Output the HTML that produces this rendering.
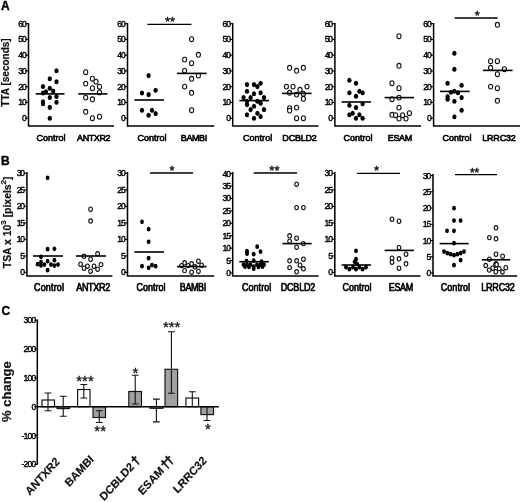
<!DOCTYPE html>
<html><head><meta charset="utf-8"><title>Figure</title>
<style>
html,body{margin:0;padding:0;background:#fff;}
body{width:520px;height:502px;overflow:hidden;font-family:"Liberation Sans", sans-serif;}
svg{display:block;font-family:"Liberation Sans", sans-serif;filter:blur(0.25px);}
.tk{font-size:8.6px;letter-spacing:-1.05px;fill:#000;stroke:#000;stroke-width:0.4px;}
.xl{font-size:9px;fill:#000;;stroke:#000;stroke-width:0.6px;}
.st{fill:#111;stroke:#111;stroke-width:0.4px;}
.st2{fill:#111;stroke:#111;stroke-width:0.3px;}
.dg{font-size:12.2px;stroke-width:0.55px;}
.pl{font-size:12px;font-weight:bold;fill:#000;stroke:#000;stroke-width:0.35px;}
.yl{font-size:10px;font-weight:bold;fill:#111;stroke:#111;stroke-width:0.2px;}
.yc{font-size:13px;font-weight:bold;fill:#111;stroke:#111;stroke-width:0.2px;}
.rl{font-size:10.8px;font-weight:bold;fill:#111;stroke:#111;stroke-width:0.15px;}
</style></head>
<body>
<svg width="520" height="502" viewBox="0 0 520 502">
<rect width="520" height="502" fill="#fff"/>
<path d="M28.5 23.0V126H114" fill="none" stroke="#000" stroke-width="1.5"/>
<line x1="25.5" y1="118.2" x2="28.5" y2="118.2" stroke="#000" stroke-width="1.1"/>
<text x="25.7" y="121.2" text-anchor="end" class="tk">0</text>
<line x1="25.5" y1="102.45" x2="28.5" y2="102.45" stroke="#000" stroke-width="1.1"/>
<text x="25.7" y="105.45" text-anchor="end" class="tk">10</text>
<line x1="25.5" y1="86.7" x2="28.5" y2="86.7" stroke="#000" stroke-width="1.1"/>
<text x="25.7" y="89.7" text-anchor="end" class="tk">20</text>
<line x1="25.5" y1="70.95" x2="28.5" y2="70.95" stroke="#000" stroke-width="1.1"/>
<text x="25.7" y="73.95" text-anchor="end" class="tk">30</text>
<line x1="25.5" y1="55.2" x2="28.5" y2="55.2" stroke="#000" stroke-width="1.1"/>
<text x="25.7" y="58.2" text-anchor="end" class="tk">40</text>
<line x1="25.5" y1="39.45" x2="28.5" y2="39.45" stroke="#000" stroke-width="1.1"/>
<text x="25.7" y="42.45" text-anchor="end" class="tk">50</text>
<line x1="25.5" y1="23.700000000000003" x2="28.5" y2="23.700000000000003" stroke="#000" stroke-width="1.1"/>
<text x="25.7" y="26.700000000000003" text-anchor="end" class="tk">60</text>
<ellipse cx="56.5" cy="70.7" rx="2.15" ry="2.57" fill="#000"/>
<ellipse cx="49.8" cy="78.7" rx="2.15" ry="2.57" fill="#000"/>
<ellipse cx="56.5" cy="81.7" rx="2.15" ry="2.57" fill="#000"/>
<ellipse cx="43" cy="86.5" rx="2.15" ry="2.57" fill="#000"/>
<ellipse cx="49.8" cy="88.2" rx="2.15" ry="2.57" fill="#000"/>
<ellipse cx="53.2" cy="91.0" rx="2.15" ry="2.57" fill="#000"/>
<ellipse cx="46" cy="91.8" rx="2.15" ry="2.57" fill="#000"/>
<ellipse cx="43" cy="93.0" rx="2.15" ry="2.57" fill="#000"/>
<ellipse cx="49.8" cy="97.5" rx="2.15" ry="2.57" fill="#000"/>
<ellipse cx="56.5" cy="96.5" rx="2.15" ry="2.57" fill="#000"/>
<ellipse cx="43" cy="101.8" rx="2.15" ry="2.57" fill="#000"/>
<ellipse cx="43" cy="103.8" rx="2.15" ry="2.57" fill="#000"/>
<ellipse cx="56.5" cy="102.2" rx="2.15" ry="2.57" fill="#000"/>
<ellipse cx="49.8" cy="107.4" rx="2.15" ry="2.57" fill="#000"/>
<ellipse cx="49.8" cy="118.2" rx="2.15" ry="2.57" fill="#000"/>
<ellipse cx="85.7" cy="72.2" rx="2.05" ry="2.4" fill="#fff" stroke="#111" stroke-width="1.1"/>
<ellipse cx="92.4" cy="78.7" rx="2.05" ry="2.4" fill="#fff" stroke="#111" stroke-width="1.1"/>
<ellipse cx="96" cy="81.7" rx="2.05" ry="2.4" fill="#fff" stroke="#111" stroke-width="1.1"/>
<ellipse cx="85.7" cy="83.60000000000001" rx="2.05" ry="2.4" fill="#fff" stroke="#111" stroke-width="1.1"/>
<ellipse cx="99.5" cy="86.7" rx="2.05" ry="2.4" fill="#fff" stroke="#111" stroke-width="1.1"/>
<ellipse cx="92.4" cy="88.2" rx="2.05" ry="2.4" fill="#fff" stroke="#111" stroke-width="1.1"/>
<ellipse cx="99.5" cy="92.4" rx="2.05" ry="2.4" fill="#fff" stroke="#111" stroke-width="1.1"/>
<ellipse cx="85.7" cy="97.60000000000001" rx="2.05" ry="2.4" fill="#fff" stroke="#111" stroke-width="1.1"/>
<ellipse cx="92.4" cy="99.3" rx="2.05" ry="2.4" fill="#fff" stroke="#111" stroke-width="1.1"/>
<ellipse cx="85.7" cy="111.8" rx="2.05" ry="2.4" fill="#fff" stroke="#111" stroke-width="1.1"/>
<ellipse cx="99.5" cy="116.7" rx="2.05" ry="2.4" fill="#fff" stroke="#111" stroke-width="1.1"/>
<ellipse cx="92.4" cy="118.2" rx="2.05" ry="2.4" fill="#fff" stroke="#111" stroke-width="1.1"/>
<line x1="35.7" y1="93.9" x2="64.5" y2="93.9" stroke="#000" stroke-width="1.6"/>
<line x1="78.3" y1="93.9" x2="107.4" y2="93.9" stroke="#000" stroke-width="1.6"/>
<text transform="translate(51,141.0) scale(1,1.1)" text-anchor="middle" class="xl" textLength="29.2" lengthAdjust="spacing">Control</text>
<text transform="translate(93.8,141.0) scale(1,1.1)" text-anchor="middle" class="xl" textLength="33.5" lengthAdjust="spacing">ANTXR2</text>
<path d="M127.5 23.0V126H214.3" fill="none" stroke="#000" stroke-width="1.5"/>
<line x1="124.5" y1="118.2" x2="127.5" y2="118.2" stroke="#000" stroke-width="1.1"/>
<text x="124.7" y="121.2" text-anchor="end" class="tk">0</text>
<line x1="124.5" y1="102.45" x2="127.5" y2="102.45" stroke="#000" stroke-width="1.1"/>
<text x="124.7" y="105.45" text-anchor="end" class="tk">10</text>
<line x1="124.5" y1="86.7" x2="127.5" y2="86.7" stroke="#000" stroke-width="1.1"/>
<text x="124.7" y="89.7" text-anchor="end" class="tk">20</text>
<line x1="124.5" y1="70.95" x2="127.5" y2="70.95" stroke="#000" stroke-width="1.1"/>
<text x="124.7" y="73.95" text-anchor="end" class="tk">30</text>
<line x1="124.5" y1="55.2" x2="127.5" y2="55.2" stroke="#000" stroke-width="1.1"/>
<text x="124.7" y="58.2" text-anchor="end" class="tk">40</text>
<line x1="124.5" y1="39.45" x2="127.5" y2="39.45" stroke="#000" stroke-width="1.1"/>
<text x="124.7" y="42.45" text-anchor="end" class="tk">50</text>
<line x1="124.5" y1="23.700000000000003" x2="127.5" y2="23.700000000000003" stroke="#000" stroke-width="1.1"/>
<text x="124.7" y="26.700000000000003" text-anchor="end" class="tk">60</text>
<ellipse cx="148.6" cy="75.60000000000001" rx="2.15" ry="2.57" fill="#000"/>
<ellipse cx="155.6" cy="90.2" rx="2.15" ry="2.57" fill="#000"/>
<ellipse cx="142" cy="93.0" rx="2.15" ry="2.57" fill="#000"/>
<ellipse cx="148.6" cy="94.60000000000001" rx="2.15" ry="2.57" fill="#000"/>
<ellipse cx="142" cy="110.2" rx="2.15" ry="2.57" fill="#000"/>
<ellipse cx="152" cy="110.2" rx="2.15" ry="2.57" fill="#000"/>
<ellipse cx="155.6" cy="113.60000000000001" rx="2.15" ry="2.57" fill="#000"/>
<ellipse cx="148.6" cy="115.2" rx="2.15" ry="2.57" fill="#000"/>
<ellipse cx="191.6" cy="39.2" rx="2.05" ry="2.4" fill="#fff" stroke="#111" stroke-width="1.1"/>
<ellipse cx="198.4" cy="54.800000000000004" rx="2.05" ry="2.4" fill="#fff" stroke="#111" stroke-width="1.1"/>
<ellipse cx="184.6" cy="59.6" rx="2.05" ry="2.4" fill="#fff" stroke="#111" stroke-width="1.1"/>
<ellipse cx="191.6" cy="63.2" rx="2.05" ry="2.4" fill="#fff" stroke="#111" stroke-width="1.1"/>
<ellipse cx="184.6" cy="70.60000000000001" rx="2.05" ry="2.4" fill="#fff" stroke="#111" stroke-width="1.1"/>
<ellipse cx="198.4" cy="75.60000000000001" rx="2.05" ry="2.4" fill="#fff" stroke="#111" stroke-width="1.1"/>
<ellipse cx="191.6" cy="78.8" rx="2.05" ry="2.4" fill="#fff" stroke="#111" stroke-width="1.1"/>
<ellipse cx="184.6" cy="86.60000000000001" rx="2.05" ry="2.4" fill="#fff" stroke="#111" stroke-width="1.1"/>
<ellipse cx="191.6" cy="92.8" rx="2.05" ry="2.4" fill="#fff" stroke="#111" stroke-width="1.1"/>
<ellipse cx="191.6" cy="110.2" rx="2.05" ry="2.4" fill="#fff" stroke="#111" stroke-width="1.1"/>
<line x1="134.4" y1="100" x2="164" y2="100" stroke="#000" stroke-width="1.6"/>
<line x1="177" y1="73.4" x2="206.6" y2="73.4" stroke="#000" stroke-width="1.6"/>
<text transform="translate(152,141.0) scale(1,1.1)" text-anchor="middle" class="xl" textLength="29.2" lengthAdjust="spacing">Control</text>
<text transform="translate(194,141.0) scale(1,1.1)" text-anchor="middle" class="xl" textLength="26.5" lengthAdjust="spacing">BAMBI</text>
<line x1="147.4" y1="24.4" x2="191.4" y2="24.4" stroke="#000" stroke-width="1.4"/>
<text x="170" y="25.9" text-anchor="middle" class="st" font-size="13">**</text>
<path d="M232.7 23.0V126H318.6" fill="none" stroke="#000" stroke-width="1.5"/>
<line x1="229.7" y1="118.2" x2="232.7" y2="118.2" stroke="#000" stroke-width="1.1"/>
<text x="229.89999999999998" y="121.2" text-anchor="end" class="tk">0</text>
<line x1="229.7" y1="102.45" x2="232.7" y2="102.45" stroke="#000" stroke-width="1.1"/>
<text x="229.89999999999998" y="105.45" text-anchor="end" class="tk">10</text>
<line x1="229.7" y1="86.7" x2="232.7" y2="86.7" stroke="#000" stroke-width="1.1"/>
<text x="229.89999999999998" y="89.7" text-anchor="end" class="tk">20</text>
<line x1="229.7" y1="70.95" x2="232.7" y2="70.95" stroke="#000" stroke-width="1.1"/>
<text x="229.89999999999998" y="73.95" text-anchor="end" class="tk">30</text>
<line x1="229.7" y1="55.2" x2="232.7" y2="55.2" stroke="#000" stroke-width="1.1"/>
<text x="229.89999999999998" y="58.2" text-anchor="end" class="tk">40</text>
<line x1="229.7" y1="39.45" x2="232.7" y2="39.45" stroke="#000" stroke-width="1.1"/>
<text x="229.89999999999998" y="42.45" text-anchor="end" class="tk">50</text>
<line x1="229.7" y1="23.700000000000003" x2="232.7" y2="23.700000000000003" stroke="#000" stroke-width="1.1"/>
<text x="229.89999999999998" y="26.700000000000003" text-anchor="end" class="tk">60</text>
<ellipse cx="247" cy="84.60000000000001" rx="2.15" ry="2.57" fill="#000"/>
<ellipse cx="254" cy="84.60000000000001" rx="2.15" ry="2.57" fill="#000"/>
<ellipse cx="260.6" cy="83.2" rx="2.15" ry="2.57" fill="#000"/>
<ellipse cx="257.4" cy="86.60000000000001" rx="2.15" ry="2.57" fill="#000"/>
<ellipse cx="247" cy="91.2" rx="2.15" ry="2.57" fill="#000"/>
<ellipse cx="254" cy="93.8" rx="2.15" ry="2.57" fill="#000"/>
<ellipse cx="260.6" cy="92.8" rx="2.15" ry="2.57" fill="#000"/>
<ellipse cx="243.6" cy="97.60000000000001" rx="2.15" ry="2.57" fill="#000"/>
<ellipse cx="250.6" cy="97.60000000000001" rx="2.15" ry="2.57" fill="#000"/>
<ellipse cx="264" cy="97.60000000000001" rx="2.15" ry="2.57" fill="#000"/>
<ellipse cx="247" cy="101.2" rx="2.15" ry="2.57" fill="#000"/>
<ellipse cx="257.4" cy="101.2" rx="2.15" ry="2.57" fill="#000"/>
<ellipse cx="260.6" cy="103.2" rx="2.15" ry="2.57" fill="#000"/>
<ellipse cx="247" cy="104.60000000000001" rx="2.15" ry="2.57" fill="#000"/>
<ellipse cx="254" cy="106.2" rx="2.15" ry="2.57" fill="#000"/>
<ellipse cx="250.6" cy="109.60000000000001" rx="2.15" ry="2.57" fill="#000"/>
<ellipse cx="264" cy="109.60000000000001" rx="2.15" ry="2.57" fill="#000"/>
<ellipse cx="257.4" cy="113.2" rx="2.15" ry="2.57" fill="#000"/>
<ellipse cx="247" cy="114.8" rx="2.15" ry="2.57" fill="#000"/>
<ellipse cx="260.6" cy="116.60000000000001" rx="2.15" ry="2.57" fill="#000"/>
<ellipse cx="254" cy="118.2" rx="2.15" ry="2.57" fill="#000"/>
<ellipse cx="289.6" cy="67.8" rx="2.05" ry="2.4" fill="#fff" stroke="#111" stroke-width="1.1"/>
<ellipse cx="296.6" cy="70.8" rx="2.05" ry="2.4" fill="#fff" stroke="#111" stroke-width="1.1"/>
<ellipse cx="303.4" cy="67.8" rx="2.05" ry="2.4" fill="#fff" stroke="#111" stroke-width="1.1"/>
<ellipse cx="286.4" cy="86.60000000000001" rx="2.05" ry="2.4" fill="#fff" stroke="#111" stroke-width="1.1"/>
<ellipse cx="293" cy="86.60000000000001" rx="2.05" ry="2.4" fill="#fff" stroke="#111" stroke-width="1.1"/>
<ellipse cx="307" cy="86.60000000000001" rx="2.05" ry="2.4" fill="#fff" stroke="#111" stroke-width="1.1"/>
<ellipse cx="300" cy="89.8" rx="2.05" ry="2.4" fill="#fff" stroke="#111" stroke-width="1.1"/>
<ellipse cx="289.6" cy="92.8" rx="2.05" ry="2.4" fill="#fff" stroke="#111" stroke-width="1.1"/>
<ellipse cx="296.6" cy="94.60000000000001" rx="2.05" ry="2.4" fill="#fff" stroke="#111" stroke-width="1.1"/>
<ellipse cx="303.4" cy="93.8" rx="2.05" ry="2.4" fill="#fff" stroke="#111" stroke-width="1.1"/>
<ellipse cx="303.4" cy="98.8" rx="2.05" ry="2.4" fill="#fff" stroke="#111" stroke-width="1.1"/>
<ellipse cx="296.6" cy="107.60000000000001" rx="2.05" ry="2.4" fill="#fff" stroke="#111" stroke-width="1.1"/>
<ellipse cx="289.6" cy="108.2" rx="2.05" ry="2.4" fill="#fff" stroke="#111" stroke-width="1.1"/>
<ellipse cx="289.6" cy="110.60000000000001" rx="2.05" ry="2.4" fill="#fff" stroke="#111" stroke-width="1.1"/>
<ellipse cx="296.6" cy="118.2" rx="2.05" ry="2.4" fill="#fff" stroke="#111" stroke-width="1.1"/>
<ellipse cx="303.4" cy="118.2" rx="2.05" ry="2.4" fill="#fff" stroke="#111" stroke-width="1.1"/>
<line x1="239.4" y1="100.6" x2="269" y2="100.6" stroke="#000" stroke-width="1.6"/>
<line x1="282" y1="93.4" x2="311.6" y2="93.4" stroke="#000" stroke-width="1.6"/>
<text transform="translate(257.6,141.0) scale(1,1.1)" text-anchor="middle" class="xl" textLength="29.2" lengthAdjust="spacing">Control</text>
<text transform="translate(299.6,141.0) scale(1,1.1)" text-anchor="middle" class="xl" textLength="34.5" lengthAdjust="spacing">DCBLD2</text>
<path d="M334.9 23.0V126H421" fill="none" stroke="#000" stroke-width="1.5"/>
<line x1="331.9" y1="118.2" x2="334.9" y2="118.2" stroke="#000" stroke-width="1.1"/>
<text x="332.09999999999997" y="121.2" text-anchor="end" class="tk">0</text>
<line x1="331.9" y1="102.45" x2="334.9" y2="102.45" stroke="#000" stroke-width="1.1"/>
<text x="332.09999999999997" y="105.45" text-anchor="end" class="tk">10</text>
<line x1="331.9" y1="86.7" x2="334.9" y2="86.7" stroke="#000" stroke-width="1.1"/>
<text x="332.09999999999997" y="89.7" text-anchor="end" class="tk">20</text>
<line x1="331.9" y1="70.95" x2="334.9" y2="70.95" stroke="#000" stroke-width="1.1"/>
<text x="332.09999999999997" y="73.95" text-anchor="end" class="tk">30</text>
<line x1="331.9" y1="55.2" x2="334.9" y2="55.2" stroke="#000" stroke-width="1.1"/>
<text x="332.09999999999997" y="58.2" text-anchor="end" class="tk">40</text>
<line x1="331.9" y1="39.45" x2="334.9" y2="39.45" stroke="#000" stroke-width="1.1"/>
<text x="332.09999999999997" y="42.45" text-anchor="end" class="tk">50</text>
<line x1="331.9" y1="23.700000000000003" x2="334.9" y2="23.700000000000003" stroke="#000" stroke-width="1.1"/>
<text x="332.09999999999997" y="26.700000000000003" text-anchor="end" class="tk">60</text>
<ellipse cx="349.4" cy="80.2" rx="2.15" ry="2.57" fill="#000"/>
<ellipse cx="356" cy="83.2" rx="2.15" ry="2.57" fill="#000"/>
<ellipse cx="359.4" cy="91.2" rx="2.15" ry="2.57" fill="#000"/>
<ellipse cx="349.4" cy="92.8" rx="2.15" ry="2.57" fill="#000"/>
<ellipse cx="362.6" cy="92.8" rx="2.15" ry="2.57" fill="#000"/>
<ellipse cx="356" cy="96.2" rx="2.15" ry="2.57" fill="#000"/>
<ellipse cx="362.6" cy="103.8" rx="2.15" ry="2.57" fill="#000"/>
<ellipse cx="349.4" cy="105.2" rx="2.15" ry="2.57" fill="#000"/>
<ellipse cx="356" cy="107.60000000000001" rx="2.15" ry="2.57" fill="#000"/>
<ellipse cx="352.6" cy="113.2" rx="2.15" ry="2.57" fill="#000"/>
<ellipse cx="349.4" cy="114.8" rx="2.15" ry="2.57" fill="#000"/>
<ellipse cx="359.4" cy="114.8" rx="2.15" ry="2.57" fill="#000"/>
<ellipse cx="356" cy="118.2" rx="2.15" ry="2.57" fill="#000"/>
<ellipse cx="362.6" cy="118.2" rx="2.15" ry="2.57" fill="#000"/>
<ellipse cx="399" cy="36.2" rx="2.05" ry="2.4" fill="#fff" stroke="#111" stroke-width="1.1"/>
<ellipse cx="399" cy="65.8" rx="2.05" ry="2.4" fill="#fff" stroke="#111" stroke-width="1.1"/>
<ellipse cx="392" cy="83.2" rx="2.05" ry="2.4" fill="#fff" stroke="#111" stroke-width="1.1"/>
<ellipse cx="399" cy="88.2" rx="2.05" ry="2.4" fill="#fff" stroke="#111" stroke-width="1.1"/>
<ellipse cx="399" cy="97.60000000000001" rx="2.05" ry="2.4" fill="#fff" stroke="#111" stroke-width="1.1"/>
<ellipse cx="392" cy="99.2" rx="2.05" ry="2.4" fill="#fff" stroke="#111" stroke-width="1.1"/>
<ellipse cx="399" cy="107.60000000000001" rx="2.05" ry="2.4" fill="#fff" stroke="#111" stroke-width="1.1"/>
<ellipse cx="409.4" cy="113.2" rx="2.05" ry="2.4" fill="#fff" stroke="#111" stroke-width="1.1"/>
<ellipse cx="392" cy="114.8" rx="2.05" ry="2.4" fill="#fff" stroke="#111" stroke-width="1.1"/>
<ellipse cx="395.6" cy="115.2" rx="2.05" ry="2.4" fill="#fff" stroke="#111" stroke-width="1.1"/>
<ellipse cx="402.6" cy="115.2" rx="2.05" ry="2.4" fill="#fff" stroke="#111" stroke-width="1.1"/>
<ellipse cx="399" cy="118.60000000000001" rx="2.05" ry="2.4" fill="#fff" stroke="#111" stroke-width="1.1"/>
<ellipse cx="406" cy="118.60000000000001" rx="2.05" ry="2.4" fill="#fff" stroke="#111" stroke-width="1.1"/>
<line x1="341.6" y1="102" x2="371" y2="102" stroke="#000" stroke-width="1.6"/>
<line x1="384.6" y1="97.6" x2="414" y2="97.6" stroke="#000" stroke-width="1.6"/>
<text transform="translate(358,141.0) scale(1,1.1)" text-anchor="middle" class="xl" textLength="29.2" lengthAdjust="spacing">Control</text>
<text transform="translate(400,141.0) scale(1,1.1)" text-anchor="middle" class="xl" textLength="24.5" lengthAdjust="spacing">ESAM</text>
<path d="M433.6 23.0V126H521" fill="none" stroke="#000" stroke-width="1.5"/>
<line x1="430.6" y1="118.2" x2="433.6" y2="118.2" stroke="#000" stroke-width="1.1"/>
<text x="430.8" y="121.2" text-anchor="end" class="tk">0</text>
<line x1="430.6" y1="102.45" x2="433.6" y2="102.45" stroke="#000" stroke-width="1.1"/>
<text x="430.8" y="105.45" text-anchor="end" class="tk">10</text>
<line x1="430.6" y1="86.7" x2="433.6" y2="86.7" stroke="#000" stroke-width="1.1"/>
<text x="430.8" y="89.7" text-anchor="end" class="tk">20</text>
<line x1="430.6" y1="70.95" x2="433.6" y2="70.95" stroke="#000" stroke-width="1.1"/>
<text x="430.8" y="73.95" text-anchor="end" class="tk">30</text>
<line x1="430.6" y1="55.2" x2="433.6" y2="55.2" stroke="#000" stroke-width="1.1"/>
<text x="430.8" y="58.2" text-anchor="end" class="tk">40</text>
<line x1="430.6" y1="39.45" x2="433.6" y2="39.45" stroke="#000" stroke-width="1.1"/>
<text x="430.8" y="42.45" text-anchor="end" class="tk">50</text>
<line x1="430.6" y1="23.700000000000003" x2="433.6" y2="23.700000000000003" stroke="#000" stroke-width="1.1"/>
<text x="430.8" y="26.700000000000003" text-anchor="end" class="tk">60</text>
<ellipse cx="454.4" cy="53.2" rx="2.15" ry="2.57" fill="#000"/>
<ellipse cx="454.4" cy="69.2" rx="2.15" ry="2.57" fill="#000"/>
<ellipse cx="447.6" cy="83.2" rx="2.15" ry="2.57" fill="#000"/>
<ellipse cx="461.6" cy="85.2" rx="2.15" ry="2.57" fill="#000"/>
<ellipse cx="454.4" cy="91.2" rx="2.15" ry="2.57" fill="#000"/>
<ellipse cx="451" cy="92.2" rx="2.15" ry="2.57" fill="#000"/>
<ellipse cx="458" cy="92.8" rx="2.15" ry="2.57" fill="#000"/>
<ellipse cx="447.6" cy="96.60000000000001" rx="2.15" ry="2.57" fill="#000"/>
<ellipse cx="461.6" cy="97.60000000000001" rx="2.15" ry="2.57" fill="#000"/>
<ellipse cx="447.6" cy="99.2" rx="2.15" ry="2.57" fill="#000"/>
<ellipse cx="454.4" cy="101.2" rx="2.15" ry="2.57" fill="#000"/>
<ellipse cx="461.6" cy="110.2" rx="2.15" ry="2.57" fill="#000"/>
<ellipse cx="454.4" cy="116.8" rx="2.15" ry="2.57" fill="#000"/>
<ellipse cx="497.4" cy="24.8" rx="2.05" ry="2.4" fill="#fff" stroke="#111" stroke-width="1.1"/>
<ellipse cx="490.6" cy="61.2" rx="2.05" ry="2.4" fill="#fff" stroke="#111" stroke-width="1.1"/>
<ellipse cx="497.4" cy="61.2" rx="2.05" ry="2.4" fill="#fff" stroke="#111" stroke-width="1.1"/>
<ellipse cx="490.6" cy="67.8" rx="2.05" ry="2.4" fill="#fff" stroke="#111" stroke-width="1.1"/>
<ellipse cx="504.4" cy="69.2" rx="2.05" ry="2.4" fill="#fff" stroke="#111" stroke-width="1.1"/>
<ellipse cx="497.4" cy="74.2" rx="2.05" ry="2.4" fill="#fff" stroke="#111" stroke-width="1.1"/>
<ellipse cx="490.6" cy="86.60000000000001" rx="2.05" ry="2.4" fill="#fff" stroke="#111" stroke-width="1.1"/>
<ellipse cx="497.4" cy="88.2" rx="2.05" ry="2.4" fill="#fff" stroke="#111" stroke-width="1.1"/>
<ellipse cx="497.4" cy="100.8" rx="2.05" ry="2.4" fill="#fff" stroke="#111" stroke-width="1.1"/>
<line x1="440" y1="91.4" x2="469.6" y2="91.4" stroke="#000" stroke-width="1.6"/>
<line x1="483" y1="70.4" x2="512.6" y2="70.4" stroke="#000" stroke-width="1.6"/>
<text transform="translate(457,141.0) scale(1,1.1)" text-anchor="middle" class="xl" textLength="29.2" lengthAdjust="spacing">Control</text>
<text transform="translate(499,141.0) scale(1,1.1)" text-anchor="middle" class="xl" textLength="33.5" lengthAdjust="spacing">LRRC32</text>
<line x1="454.6" y1="18" x2="497.6" y2="18" stroke="#000" stroke-width="1.4"/>
<text x="477.4" y="20.0" text-anchor="middle" class="st" font-size="13">*</text>
<path d="M26.9 172.1V276H112.4" fill="none" stroke="#000" stroke-width="1.55"/>
<line x1="23.9" y1="272.4" x2="26.9" y2="272.4" stroke="#000" stroke-width="1.1"/>
<text x="24.099999999999998" y="275.4" text-anchor="end" class="tk">0</text>
<line x1="23.9" y1="255.89999999999998" x2="26.9" y2="255.89999999999998" stroke="#000" stroke-width="1.1"/>
<text x="24.099999999999998" y="258.9" text-anchor="end" class="tk">5</text>
<line x1="23.9" y1="239.39999999999998" x2="26.9" y2="239.39999999999998" stroke="#000" stroke-width="1.1"/>
<text x="24.099999999999998" y="242.39999999999998" text-anchor="end" class="tk">10</text>
<line x1="23.9" y1="222.89999999999998" x2="26.9" y2="222.89999999999998" stroke="#000" stroke-width="1.1"/>
<text x="24.099999999999998" y="225.89999999999998" text-anchor="end" class="tk">15</text>
<line x1="23.9" y1="206.39999999999998" x2="26.9" y2="206.39999999999998" stroke="#000" stroke-width="1.1"/>
<text x="24.099999999999998" y="209.39999999999998" text-anchor="end" class="tk">20</text>
<line x1="23.9" y1="189.89999999999998" x2="26.9" y2="189.89999999999998" stroke="#000" stroke-width="1.1"/>
<text x="24.099999999999998" y="192.89999999999998" text-anchor="end" class="tk">25</text>
<line x1="23.9" y1="173.39999999999998" x2="26.9" y2="173.39999999999998" stroke="#000" stroke-width="1.1"/>
<text x="24.099999999999998" y="176.39999999999998" text-anchor="end" class="tk">30</text>
<ellipse cx="47.6" cy="177.79999999999998" rx="1.92" ry="2.34" fill="#000"/>
<ellipse cx="47.6" cy="249.2" rx="1.92" ry="2.34" fill="#000"/>
<ellipse cx="54.4" cy="248.79999999999998" rx="1.92" ry="2.34" fill="#000"/>
<ellipse cx="41" cy="256.8" rx="1.92" ry="2.34" fill="#000"/>
<ellipse cx="54.4" cy="260.2" rx="1.92" ry="2.34" fill="#000"/>
<ellipse cx="47.6" cy="261.2" rx="1.92" ry="2.34" fill="#000"/>
<ellipse cx="41" cy="262.2" rx="1.92" ry="2.34" fill="#000"/>
<ellipse cx="37.6" cy="264.2" rx="1.92" ry="2.34" fill="#000"/>
<ellipse cx="44.4" cy="264.59999999999997" rx="1.92" ry="2.34" fill="#000"/>
<ellipse cx="51" cy="264.59999999999997" rx="1.92" ry="2.34" fill="#000"/>
<ellipse cx="58" cy="264.59999999999997" rx="1.92" ry="2.34" fill="#000"/>
<ellipse cx="54.4" cy="265.59999999999997" rx="1.92" ry="2.34" fill="#000"/>
<ellipse cx="41" cy="265.4" rx="1.92" ry="2.34" fill="#000"/>
<ellipse cx="47.6" cy="270.2" rx="1.92" ry="2.34" fill="#000"/>
<ellipse cx="90.6" cy="209.2" rx="1.8199999999999998" ry="2.17" fill="#fff" stroke="#111" stroke-width="1.1"/>
<ellipse cx="90.6" cy="221.0" rx="1.8199999999999998" ry="2.17" fill="#fff" stroke="#111" stroke-width="1.1"/>
<ellipse cx="97.6" cy="253.79999999999998" rx="1.8199999999999998" ry="2.17" fill="#fff" stroke="#111" stroke-width="1.1"/>
<ellipse cx="84" cy="256.2" rx="1.8199999999999998" ry="2.17" fill="#fff" stroke="#111" stroke-width="1.1"/>
<ellipse cx="90.6" cy="259.2" rx="1.8199999999999998" ry="2.17" fill="#fff" stroke="#111" stroke-width="1.1"/>
<ellipse cx="80.6" cy="264.2" rx="1.8199999999999998" ry="2.17" fill="#fff" stroke="#111" stroke-width="1.1"/>
<ellipse cx="101" cy="264.59999999999997" rx="1.8199999999999998" ry="2.17" fill="#fff" stroke="#111" stroke-width="1.1"/>
<ellipse cx="87.4" cy="266.2" rx="1.8199999999999998" ry="2.17" fill="#fff" stroke="#111" stroke-width="1.1"/>
<ellipse cx="94" cy="266.2" rx="1.8199999999999998" ry="2.17" fill="#fff" stroke="#111" stroke-width="1.1"/>
<ellipse cx="84" cy="268.2" rx="1.8199999999999998" ry="2.17" fill="#fff" stroke="#111" stroke-width="1.1"/>
<ellipse cx="97.6" cy="269.2" rx="1.8199999999999998" ry="2.17" fill="#fff" stroke="#111" stroke-width="1.1"/>
<ellipse cx="90.6" cy="271.2" rx="1.8199999999999998" ry="2.17" fill="#fff" stroke="#111" stroke-width="1.1"/>
<line x1="33" y1="256" x2="63" y2="256" stroke="#000" stroke-width="1.6"/>
<line x1="76" y1="256" x2="106" y2="256" stroke="#000" stroke-width="1.6"/>
<text transform="translate(49,291.3) scale(1,1.2)" text-anchor="middle" class="xl" textLength="30" lengthAdjust="spacing">Control</text>
<text transform="translate(93.2,291.3) scale(1,1.2)" text-anchor="middle" class="xl" textLength="34" lengthAdjust="spacing">ANTXR2</text>
<path d="M127.5 172.1V276H214.3" fill="none" stroke="#000" stroke-width="1.55"/>
<line x1="124.5" y1="272.4" x2="127.5" y2="272.4" stroke="#000" stroke-width="1.1"/>
<text x="124.7" y="275.4" text-anchor="end" class="tk">0</text>
<line x1="124.5" y1="255.89999999999998" x2="127.5" y2="255.89999999999998" stroke="#000" stroke-width="1.1"/>
<text x="124.7" y="258.9" text-anchor="end" class="tk">5</text>
<line x1="124.5" y1="239.39999999999998" x2="127.5" y2="239.39999999999998" stroke="#000" stroke-width="1.1"/>
<text x="124.7" y="242.39999999999998" text-anchor="end" class="tk">10</text>
<line x1="124.5" y1="222.89999999999998" x2="127.5" y2="222.89999999999998" stroke="#000" stroke-width="1.1"/>
<text x="124.7" y="225.89999999999998" text-anchor="end" class="tk">15</text>
<line x1="124.5" y1="206.39999999999998" x2="127.5" y2="206.39999999999998" stroke="#000" stroke-width="1.1"/>
<text x="124.7" y="209.39999999999998" text-anchor="end" class="tk">20</text>
<line x1="124.5" y1="189.89999999999998" x2="127.5" y2="189.89999999999998" stroke="#000" stroke-width="1.1"/>
<text x="124.7" y="192.89999999999998" text-anchor="end" class="tk">25</text>
<line x1="124.5" y1="173.39999999999998" x2="127.5" y2="173.39999999999998" stroke="#000" stroke-width="1.1"/>
<text x="124.7" y="176.39999999999998" text-anchor="end" class="tk">30</text>
<ellipse cx="142" cy="221.79999999999998" rx="1.92" ry="2.34" fill="#000"/>
<ellipse cx="148.6" cy="229.2" rx="1.92" ry="2.34" fill="#000"/>
<ellipse cx="148.6" cy="241.79999999999998" rx="1.92" ry="2.34" fill="#000"/>
<ellipse cx="148.6" cy="258.2" rx="1.92" ry="2.34" fill="#000"/>
<ellipse cx="142" cy="266.2" rx="1.92" ry="2.34" fill="#000"/>
<ellipse cx="152" cy="265.2" rx="1.92" ry="2.34" fill="#000"/>
<ellipse cx="155.6" cy="266.2" rx="1.92" ry="2.34" fill="#000"/>
<ellipse cx="148.6" cy="267.8" rx="1.92" ry="2.34" fill="#000"/>
<ellipse cx="198.4" cy="261.2" rx="1.8199999999999998" ry="2.17" fill="#fff" stroke="#111" stroke-width="1.1"/>
<ellipse cx="184.6" cy="262.8" rx="1.8199999999999998" ry="2.17" fill="#fff" stroke="#111" stroke-width="1.1"/>
<ellipse cx="191.6" cy="263.8" rx="1.8199999999999998" ry="2.17" fill="#fff" stroke="#111" stroke-width="1.1"/>
<ellipse cx="181.6" cy="265.59999999999997" rx="1.8199999999999998" ry="2.17" fill="#fff" stroke="#111" stroke-width="1.1"/>
<ellipse cx="188" cy="265.59999999999997" rx="1.8199999999999998" ry="2.17" fill="#fff" stroke="#111" stroke-width="1.1"/>
<ellipse cx="201.6" cy="265.2" rx="1.8199999999999998" ry="2.17" fill="#fff" stroke="#111" stroke-width="1.1"/>
<ellipse cx="195" cy="266.8" rx="1.8199999999999998" ry="2.17" fill="#fff" stroke="#111" stroke-width="1.1"/>
<ellipse cx="184.6" cy="270.59999999999997" rx="1.8199999999999998" ry="2.17" fill="#fff" stroke="#111" stroke-width="1.1"/>
<ellipse cx="198.4" cy="271.2" rx="1.8199999999999998" ry="2.17" fill="#fff" stroke="#111" stroke-width="1.1"/>
<ellipse cx="191.6" cy="272.2" rx="1.8199999999999998" ry="2.17" fill="#fff" stroke="#111" stroke-width="1.1"/>
<line x1="134.4" y1="252" x2="164" y2="252" stroke="#000" stroke-width="1.6"/>
<line x1="177" y1="266.6" x2="206.6" y2="266.6" stroke="#000" stroke-width="1.6"/>
<text transform="translate(151,291.3) scale(1,1.2)" text-anchor="middle" class="xl" textLength="29.2" lengthAdjust="spacing">Control</text>
<text transform="translate(193,291.3) scale(1,1.2)" text-anchor="middle" class="xl" textLength="26.5" lengthAdjust="spacing">BAMBI</text>
<line x1="150" y1="173" x2="193" y2="173" stroke="#000" stroke-width="1.4"/>
<text x="172" y="174.9" text-anchor="middle" class="st" font-size="13">*</text>
<path d="M232.7 172.1V276H318.6" fill="none" stroke="#000" stroke-width="1.55"/>
<line x1="229.7" y1="273.0" x2="232.7" y2="273.0" stroke="#000" stroke-width="1.1"/>
<text x="229.89999999999998" y="276.0" text-anchor="end" class="tk">0</text>
<line x1="229.7" y1="260.57" x2="232.7" y2="260.57" stroke="#000" stroke-width="1.1"/>
<text x="229.89999999999998" y="263.57" text-anchor="end" class="tk">5</text>
<line x1="229.7" y1="248.14" x2="232.7" y2="248.14" stroke="#000" stroke-width="1.1"/>
<text x="229.89999999999998" y="251.14" text-anchor="end" class="tk">10</text>
<line x1="229.7" y1="235.71" x2="232.7" y2="235.71" stroke="#000" stroke-width="1.1"/>
<text x="229.89999999999998" y="238.71" text-anchor="end" class="tk">15</text>
<line x1="229.7" y1="223.28" x2="232.7" y2="223.28" stroke="#000" stroke-width="1.1"/>
<text x="229.89999999999998" y="226.28" text-anchor="end" class="tk">20</text>
<line x1="229.7" y1="210.85" x2="232.7" y2="210.85" stroke="#000" stroke-width="1.1"/>
<text x="229.89999999999998" y="213.85" text-anchor="end" class="tk">25</text>
<line x1="229.7" y1="198.42000000000002" x2="232.7" y2="198.42000000000002" stroke="#000" stroke-width="1.1"/>
<text x="229.89999999999998" y="201.42000000000002" text-anchor="end" class="tk">30</text>
<line x1="229.7" y1="185.99" x2="232.7" y2="185.99" stroke="#000" stroke-width="1.1"/>
<text x="229.89999999999998" y="188.99" text-anchor="end" class="tk">35</text>
<line x1="229.7" y1="173.56" x2="232.7" y2="173.56" stroke="#000" stroke-width="1.1"/>
<text x="229.89999999999998" y="176.56" text-anchor="end" class="tk">40</text>
<ellipse cx="257.2" cy="246.7" rx="1.92" ry="2.34" fill="#000"/>
<ellipse cx="247" cy="251.2" rx="1.92" ry="2.34" fill="#000"/>
<ellipse cx="247" cy="253.7" rx="1.92" ry="2.34" fill="#000"/>
<ellipse cx="260.5" cy="251.7" rx="1.92" ry="2.34" fill="#000"/>
<ellipse cx="253.7" cy="254.2" rx="1.92" ry="2.34" fill="#000"/>
<ellipse cx="246.5" cy="261.2" rx="1.92" ry="2.34" fill="#000"/>
<ellipse cx="253.7" cy="260.7" rx="1.92" ry="2.34" fill="#000"/>
<ellipse cx="261.5" cy="261.7" rx="1.92" ry="2.34" fill="#000"/>
<ellipse cx="243.5" cy="264.7" rx="1.92" ry="2.34" fill="#000"/>
<ellipse cx="247" cy="264.7" rx="1.92" ry="2.34" fill="#000"/>
<ellipse cx="250.5" cy="264.7" rx="1.92" ry="2.34" fill="#000"/>
<ellipse cx="257" cy="264.7" rx="1.92" ry="2.34" fill="#000"/>
<ellipse cx="260.5" cy="264.7" rx="1.92" ry="2.34" fill="#000"/>
<ellipse cx="264" cy="264.7" rx="1.92" ry="2.34" fill="#000"/>
<ellipse cx="245" cy="266.7" rx="1.92" ry="2.34" fill="#000"/>
<ellipse cx="249" cy="267.0" rx="1.92" ry="2.34" fill="#000"/>
<ellipse cx="253.7" cy="266.7" rx="1.92" ry="2.34" fill="#000"/>
<ellipse cx="258.5" cy="267.0" rx="1.92" ry="2.34" fill="#000"/>
<ellipse cx="262.5" cy="266.7" rx="1.92" ry="2.34" fill="#000"/>
<ellipse cx="253.7" cy="268.7" rx="1.92" ry="2.34" fill="#000"/>
<ellipse cx="296.6" cy="184.2" rx="1.8199999999999998" ry="2.17" fill="#fff" stroke="#111" stroke-width="1.1"/>
<ellipse cx="296.6" cy="207.6" rx="1.8199999999999998" ry="2.17" fill="#fff" stroke="#111" stroke-width="1.1"/>
<ellipse cx="303.4" cy="207.6" rx="1.8199999999999998" ry="2.17" fill="#fff" stroke="#111" stroke-width="1.1"/>
<ellipse cx="289.6" cy="235.79999999999998" rx="1.8199999999999998" ry="2.17" fill="#fff" stroke="#111" stroke-width="1.1"/>
<ellipse cx="296.6" cy="238.2" rx="1.8199999999999998" ry="2.17" fill="#fff" stroke="#111" stroke-width="1.1"/>
<ellipse cx="289.6" cy="241.2" rx="1.8199999999999998" ry="2.17" fill="#fff" stroke="#111" stroke-width="1.1"/>
<ellipse cx="303.4" cy="243.6" rx="1.8199999999999998" ry="2.17" fill="#fff" stroke="#111" stroke-width="1.1"/>
<ellipse cx="296.6" cy="247.2" rx="1.8199999999999998" ry="2.17" fill="#fff" stroke="#111" stroke-width="1.1"/>
<ellipse cx="303.4" cy="259.2" rx="1.8199999999999998" ry="2.17" fill="#fff" stroke="#111" stroke-width="1.1"/>
<ellipse cx="289.6" cy="260.8" rx="1.8199999999999998" ry="2.17" fill="#fff" stroke="#111" stroke-width="1.1"/>
<ellipse cx="296.6" cy="260.8" rx="1.8199999999999998" ry="2.17" fill="#fff" stroke="#111" stroke-width="1.1"/>
<ellipse cx="300" cy="265.2" rx="1.8199999999999998" ry="2.17" fill="#fff" stroke="#111" stroke-width="1.1"/>
<ellipse cx="289.6" cy="267.59999999999997" rx="1.8199999999999998" ry="2.17" fill="#fff" stroke="#111" stroke-width="1.1"/>
<ellipse cx="303.4" cy="268.8" rx="1.8199999999999998" ry="2.17" fill="#fff" stroke="#111" stroke-width="1.1"/>
<ellipse cx="296.6" cy="271.8" rx="1.8199999999999998" ry="2.17" fill="#fff" stroke="#111" stroke-width="1.1"/>
<line x1="239.3" y1="261.7" x2="268.9" y2="261.7" stroke="#000" stroke-width="1.6"/>
<line x1="282.4" y1="243.6" x2="311.6" y2="243.6" stroke="#000" stroke-width="1.6"/>
<text transform="translate(256.6,291.3) scale(1,1.2)" text-anchor="middle" class="xl" textLength="29.3" lengthAdjust="spacing">Control</text>
<text transform="translate(298,291.3) scale(1,1.2)" text-anchor="middle" class="xl" textLength="34.5" lengthAdjust="spacing">DCBLD2</text>
<line x1="253.6" y1="173" x2="297" y2="173" stroke="#000" stroke-width="1.4"/>
<text x="274.4" y="175.4" text-anchor="middle" class="st" font-size="13">**</text>
<path d="M334.8 172.1V276H420.4" fill="none" stroke="#000" stroke-width="1.55"/>
<line x1="331.8" y1="272.4" x2="334.8" y2="272.4" stroke="#000" stroke-width="1.1"/>
<text x="332.0" y="275.4" text-anchor="end" class="tk">0</text>
<line x1="331.8" y1="255.89999999999998" x2="334.8" y2="255.89999999999998" stroke="#000" stroke-width="1.1"/>
<text x="332.0" y="258.9" text-anchor="end" class="tk">5</text>
<line x1="331.8" y1="239.39999999999998" x2="334.8" y2="239.39999999999998" stroke="#000" stroke-width="1.1"/>
<text x="332.0" y="242.39999999999998" text-anchor="end" class="tk">10</text>
<line x1="331.8" y1="222.89999999999998" x2="334.8" y2="222.89999999999998" stroke="#000" stroke-width="1.1"/>
<text x="332.0" y="225.89999999999998" text-anchor="end" class="tk">15</text>
<line x1="331.8" y1="206.39999999999998" x2="334.8" y2="206.39999999999998" stroke="#000" stroke-width="1.1"/>
<text x="332.0" y="209.39999999999998" text-anchor="end" class="tk">20</text>
<line x1="331.8" y1="189.89999999999998" x2="334.8" y2="189.89999999999998" stroke="#000" stroke-width="1.1"/>
<text x="332.0" y="192.89999999999998" text-anchor="end" class="tk">25</text>
<line x1="331.8" y1="173.39999999999998" x2="334.8" y2="173.39999999999998" stroke="#000" stroke-width="1.1"/>
<text x="332.0" y="176.39999999999998" text-anchor="end" class="tk">30</text>
<ellipse cx="356" cy="250.79999999999998" rx="1.92" ry="2.34" fill="#000"/>
<ellipse cx="356" cy="259.2" rx="1.92" ry="2.34" fill="#000"/>
<ellipse cx="354.6" cy="261.8" rx="1.92" ry="2.34" fill="#000"/>
<ellipse cx="357" cy="263.8" rx="1.92" ry="2.34" fill="#000"/>
<ellipse cx="346" cy="267.2" rx="1.92" ry="2.34" fill="#000"/>
<ellipse cx="349.4" cy="269.2" rx="1.92" ry="2.34" fill="#000"/>
<ellipse cx="353" cy="267.2" rx="1.92" ry="2.34" fill="#000"/>
<ellipse cx="356" cy="269.2" rx="1.92" ry="2.34" fill="#000"/>
<ellipse cx="359.4" cy="267.2" rx="1.92" ry="2.34" fill="#000"/>
<ellipse cx="362.6" cy="269.2" rx="1.92" ry="2.34" fill="#000"/>
<ellipse cx="366" cy="267.2" rx="1.92" ry="2.34" fill="#000"/>
<ellipse cx="392" cy="219.2" rx="1.8199999999999998" ry="2.17" fill="#fff" stroke="#111" stroke-width="1.1"/>
<ellipse cx="399" cy="221.2" rx="1.8199999999999998" ry="2.17" fill="#fff" stroke="#111" stroke-width="1.1"/>
<ellipse cx="399" cy="247.6" rx="1.8199999999999998" ry="2.17" fill="#fff" stroke="#111" stroke-width="1.1"/>
<ellipse cx="406" cy="254.2" rx="1.8199999999999998" ry="2.17" fill="#fff" stroke="#111" stroke-width="1.1"/>
<ellipse cx="392" cy="258.2" rx="1.8199999999999998" ry="2.17" fill="#fff" stroke="#111" stroke-width="1.1"/>
<ellipse cx="399" cy="258.8" rx="1.8199999999999998" ry="2.17" fill="#fff" stroke="#111" stroke-width="1.1"/>
<ellipse cx="392" cy="262.2" rx="1.8199999999999998" ry="2.17" fill="#fff" stroke="#111" stroke-width="1.1"/>
<ellipse cx="406" cy="263.8" rx="1.8199999999999998" ry="2.17" fill="#fff" stroke="#111" stroke-width="1.1"/>
<ellipse cx="399" cy="268.2" rx="1.8199999999999998" ry="2.17" fill="#fff" stroke="#111" stroke-width="1.1"/>
<line x1="341.6" y1="265" x2="371" y2="265" stroke="#000" stroke-width="1.6"/>
<line x1="384.6" y1="250.4" x2="414" y2="250.4" stroke="#000" stroke-width="1.6"/>
<text transform="translate(357,291.3) scale(1,1.2)" text-anchor="middle" class="xl" textLength="29.2" lengthAdjust="spacing">Control</text>
<text transform="translate(401,291.3) scale(1,1.2)" text-anchor="middle" class="xl" textLength="24.5" lengthAdjust="spacing">ESAM</text>
<line x1="357" y1="173.4" x2="400" y2="173.4" stroke="#000" stroke-width="1.4"/>
<text x="376.6" y="175.4" text-anchor="middle" class="st" font-size="13">*</text>
<path d="M433 174.1V276H517.2" fill="none" stroke="#000" stroke-width="1.55"/>
<line x1="430" y1="273.0" x2="433" y2="273.0" stroke="#000" stroke-width="1.1"/>
<text x="430.2" y="276.0" text-anchor="end" class="tk">0</text>
<line x1="430" y1="256.75" x2="433" y2="256.75" stroke="#000" stroke-width="1.1"/>
<text x="430.2" y="259.75" text-anchor="end" class="tk">5</text>
<line x1="430" y1="240.5" x2="433" y2="240.5" stroke="#000" stroke-width="1.1"/>
<text x="430.2" y="243.5" text-anchor="end" class="tk">10</text>
<line x1="430" y1="224.25" x2="433" y2="224.25" stroke="#000" stroke-width="1.1"/>
<text x="430.2" y="227.25" text-anchor="end" class="tk">15</text>
<line x1="430" y1="208.0" x2="433" y2="208.0" stroke="#000" stroke-width="1.1"/>
<text x="430.2" y="211.0" text-anchor="end" class="tk">20</text>
<line x1="430" y1="191.75" x2="433" y2="191.75" stroke="#000" stroke-width="1.1"/>
<text x="430.2" y="194.75" text-anchor="end" class="tk">25</text>
<line x1="430" y1="175.5" x2="433" y2="175.5" stroke="#000" stroke-width="1.1"/>
<text x="430.2" y="178.5" text-anchor="end" class="tk">30</text>
<ellipse cx="454" cy="208.2" rx="1.92" ry="2.34" fill="#000"/>
<ellipse cx="454" cy="220.6" rx="1.92" ry="2.34" fill="#000"/>
<ellipse cx="460.6" cy="220.6" rx="1.92" ry="2.34" fill="#000"/>
<ellipse cx="447" cy="230.79999999999998" rx="1.92" ry="2.34" fill="#000"/>
<ellipse cx="454" cy="230.79999999999998" rx="1.92" ry="2.34" fill="#000"/>
<ellipse cx="454" cy="243.2" rx="1.92" ry="2.34" fill="#000"/>
<ellipse cx="444" cy="251.6" rx="1.92" ry="2.34" fill="#000"/>
<ellipse cx="464" cy="251.6" rx="1.92" ry="2.34" fill="#000"/>
<ellipse cx="447.4" cy="253.2" rx="1.92" ry="2.34" fill="#000"/>
<ellipse cx="460.6" cy="253.2" rx="1.92" ry="2.34" fill="#000"/>
<ellipse cx="450.6" cy="254.2" rx="1.92" ry="2.34" fill="#000"/>
<ellipse cx="457.4" cy="254.2" rx="1.92" ry="2.34" fill="#000"/>
<ellipse cx="454" cy="255.2" rx="1.92" ry="2.34" fill="#000"/>
<ellipse cx="460.6" cy="260.2" rx="1.92" ry="2.34" fill="#000"/>
<ellipse cx="454" cy="265.2" rx="1.92" ry="2.34" fill="#000"/>
<ellipse cx="496" cy="227.79999999999998" rx="1.8199999999999998" ry="2.17" fill="#fff" stroke="#111" stroke-width="1.1"/>
<ellipse cx="489.4" cy="237.6" rx="1.8199999999999998" ry="2.17" fill="#fff" stroke="#111" stroke-width="1.1"/>
<ellipse cx="496" cy="238.79999999999998" rx="1.8199999999999998" ry="2.17" fill="#fff" stroke="#111" stroke-width="1.1"/>
<ellipse cx="496" cy="254.2" rx="1.8199999999999998" ry="2.17" fill="#fff" stroke="#111" stroke-width="1.1"/>
<ellipse cx="502.6" cy="256.2" rx="1.8199999999999998" ry="2.17" fill="#fff" stroke="#111" stroke-width="1.1"/>
<ellipse cx="489.4" cy="259.2" rx="1.8199999999999998" ry="2.17" fill="#fff" stroke="#111" stroke-width="1.1"/>
<ellipse cx="496" cy="263.8" rx="1.8199999999999998" ry="2.17" fill="#fff" stroke="#111" stroke-width="1.1"/>
<ellipse cx="495.5" cy="265.09999999999997" rx="1.8199999999999998" ry="2.17" fill="#fff" stroke="#111" stroke-width="1.1"/>
<ellipse cx="496.6" cy="264.59999999999997" rx="1.8199999999999998" ry="2.17" fill="#fff" stroke="#111" stroke-width="1.1"/>
<ellipse cx="485.7" cy="265.5" rx="1.8199999999999998" ry="2.17" fill="#fff" stroke="#111" stroke-width="1.1"/>
<ellipse cx="499.2" cy="268.59999999999997" rx="1.8199999999999998" ry="2.17" fill="#fff" stroke="#111" stroke-width="1.1"/>
<ellipse cx="505.8" cy="267.7" rx="1.8199999999999998" ry="2.17" fill="#fff" stroke="#111" stroke-width="1.1"/>
<ellipse cx="492.7" cy="268.2" rx="1.8199999999999998" ry="2.17" fill="#fff" stroke="#111" stroke-width="1.1"/>
<ellipse cx="489.2" cy="270.09999999999997" rx="1.8199999999999998" ry="2.17" fill="#fff" stroke="#111" stroke-width="1.1"/>
<ellipse cx="502.4" cy="272.0" rx="1.8199999999999998" ry="2.17" fill="#fff" stroke="#111" stroke-width="1.1"/>
<ellipse cx="495.8" cy="271.7" rx="1.8199999999999998" ry="2.17" fill="#fff" stroke="#111" stroke-width="1.1"/>
<line x1="439.6" y1="243.6" x2="468.6" y2="243.6" stroke="#000" stroke-width="1.6"/>
<line x1="481.8" y1="259.8" x2="510.2" y2="259.8" stroke="#000" stroke-width="1.6"/>
<text transform="translate(455.4,291.3) scale(1,1.2)" text-anchor="middle" class="xl" textLength="29.2" lengthAdjust="spacing">Control</text>
<text transform="translate(498,291.3) scale(1,1.2)" text-anchor="middle" class="xl" textLength="33.5" lengthAdjust="spacing">LRRC32</text>
<line x1="455" y1="174.6" x2="497" y2="174.6" stroke="#000" stroke-width="1.4"/>
<text x="474.6" y="177.2" text-anchor="middle" class="st" font-size="12">**</text>
<text x="1" y="9.8" class="pl">A</text>
<text x="1" y="165" class="pl">B</text>
<text x="1.5" y="315" class="pl">C</text>
<text transform="translate(9.2,72.5) rotate(-90)" text-anchor="middle" class="yl">TTA [seconds]</text>
<text transform="translate(10.6,268.2) rotate(-90)" text-anchor="start" class="yl" style="font-size:10.4px">TSA x 10<tspan dy="-4.6" font-size="8">3</tspan><tspan dy="4.6"> [pixels</tspan><tspan dy="-4.6" font-size="8">2</tspan><tspan dy="4.6">]</tspan></text>
<text transform="translate(11,391.6) rotate(-90)" text-anchor="middle" class="yc">% change</text>
<rect x="42" y="400" width="12.5" height="6.699999999999989" fill="#fff" stroke="#111" stroke-width="1.15"/>
<path d="M48 393V410.8M44.6 393h6.8M44.6 410.8h6.8" stroke="#111" stroke-width="1.1" fill="none"/>
<rect x="57" y="406.7" width="12.5" height="1.900000000000034" fill="#a0a0a0" stroke="#111" stroke-width="1.15"/>
<path d="M63.2 396.2V416.2M59.800000000000004 396.2h6.8M59.800000000000004 416.2h6.8" stroke="#111" stroke-width="1.1" fill="none"/>
<rect x="77.6" y="389.5" width="12.400000000000006" height="17.19999999999999" fill="#fff" stroke="#111" stroke-width="1.15"/>
<path d="M83.8 384.5V398M80.39999999999999 384.5h6.8M80.39999999999999 398h6.8" stroke="#111" stroke-width="1.1" fill="none"/>
<rect x="93" y="406.7" width="12.5" height="10.800000000000011" fill="#a0a0a0" stroke="#111" stroke-width="1.15"/>
<path d="M99.3 410.8V422.5M95.89999999999999 410.8h6.8M95.89999999999999 422.5h6.8" stroke="#111" stroke-width="1.1" fill="none"/>
<rect x="128.8" y="391.5" width="12.699999999999989" height="15.199999999999989" fill="#a0a0a0" stroke="#111" stroke-width="1.15"/>
<path d="M135.2 375.3V404M131.79999999999998 375.3h6.8M131.79999999999998 404h6.8" stroke="#111" stroke-width="1.1" fill="none"/>
<rect x="150" y="406.7" width="13" height="1.6000000000000227" fill="#fff" stroke="#111" stroke-width="1.15"/>
<path d="M156.4 399.1V421.9M153.0 399.1h6.8M153.0 421.9h6.8" stroke="#111" stroke-width="1.1" fill="none"/>
<rect x="165" y="369.3" width="12.599999999999994" height="37.39999999999998" fill="#a0a0a0" stroke="#111" stroke-width="1.15"/>
<path d="M171.4 331.7V393.2M168.0 331.7h6.8M168.0 393.2h6.8" stroke="#111" stroke-width="1.1" fill="none"/>
<rect x="185.9" y="398" width="12.699999999999989" height="8.699999999999989" fill="#fff" stroke="#111" stroke-width="1.15"/>
<path d="M192.3 391.8V406M188.9 391.8h6.8" stroke="#111" stroke-width="1.1" fill="none"/>
<rect x="200.9" y="406.7" width="12.599999999999994" height="7.900000000000034" fill="#a0a0a0" stroke="#111" stroke-width="1.15"/>
<path d="M207 407V420.5M203.6 420.5h6.8" stroke="#111" stroke-width="1.1" fill="none"/>
<path d="M37.3 319.5V464.8" fill="none" stroke="#000" stroke-width="1.5"/>
<line x1="37.3" y1="406.7" x2="218.8" y2="406.7" stroke="#000" stroke-width="1.5"/>
<line x1="34.3" y1="320.15" x2="37.3" y2="320.15" stroke="#000" stroke-width="1.1"/>
<text x="35.4" y="323.15" text-anchor="end" class="tk" style="letter-spacing:-0.85px">300</text>
<line x1="34.3" y1="349.0" x2="37.3" y2="349.0" stroke="#000" stroke-width="1.1"/>
<text x="35.4" y="352.0" text-anchor="end" class="tk" style="letter-spacing:-0.85px">200</text>
<line x1="34.3" y1="377.84999999999997" x2="37.3" y2="377.84999999999997" stroke="#000" stroke-width="1.1"/>
<text x="35.4" y="380.84999999999997" text-anchor="end" class="tk" style="letter-spacing:-0.85px">100</text>
<line x1="34.3" y1="406.7" x2="37.3" y2="406.7" stroke="#000" stroke-width="1.1"/>
<text x="35.4" y="409.7" text-anchor="end" class="tk" style="letter-spacing:-0.85px">0</text>
<line x1="34.3" y1="435.55" x2="37.3" y2="435.55" stroke="#000" stroke-width="1.1"/>
<text x="35.4" y="438.55" text-anchor="end" class="tk" style="letter-spacing:-0.85px">-100</text>
<line x1="34.3" y1="464.4" x2="37.3" y2="464.4" stroke="#000" stroke-width="1.1"/>
<text x="35.4" y="467.4" text-anchor="end" class="tk" style="letter-spacing:-0.85px">-200</text>
<text x="85" y="386.0" text-anchor="middle" class="st2" font-size="15">***</text>
<text x="100.2" y="436.4" text-anchor="middle" class="st2" font-size="15">**</text>
<text x="135.3" y="377.5" text-anchor="middle" class="st2" font-size="15">*</text>
<text x="171.7" y="331.7" text-anchor="middle" class="st2" font-size="15">***</text>
<text x="207.8" y="434" text-anchor="middle" class="st2" font-size="15">*</text>
<text transform="translate(60.3,462.4) scale(1,1.1) rotate(-45)" text-anchor="end" class="rl">ANTXR2</text>
<text transform="translate(94.3,460.1) scale(1,1.1) rotate(-45)" text-anchor="end" class="rl">BAMBI</text>
<text transform="translate(140.8,461) scale(1,1.1) rotate(-45)" text-anchor="end" class="rl">DCBLD2<tspan class="dg" dx="1.6">†</tspan></text>
<text transform="translate(174.5,460.6) scale(1,1.1) rotate(-45)" text-anchor="end" class="rl">ESAM<tspan class="dg" dx="1.6">†</tspan><tspan class="dg" dx="-1.1">†</tspan></text>
<text transform="translate(207.3,461.4) scale(1,1.1) rotate(-45)" text-anchor="end" class="rl">LRRC32</text>
</svg>
</body></html>
